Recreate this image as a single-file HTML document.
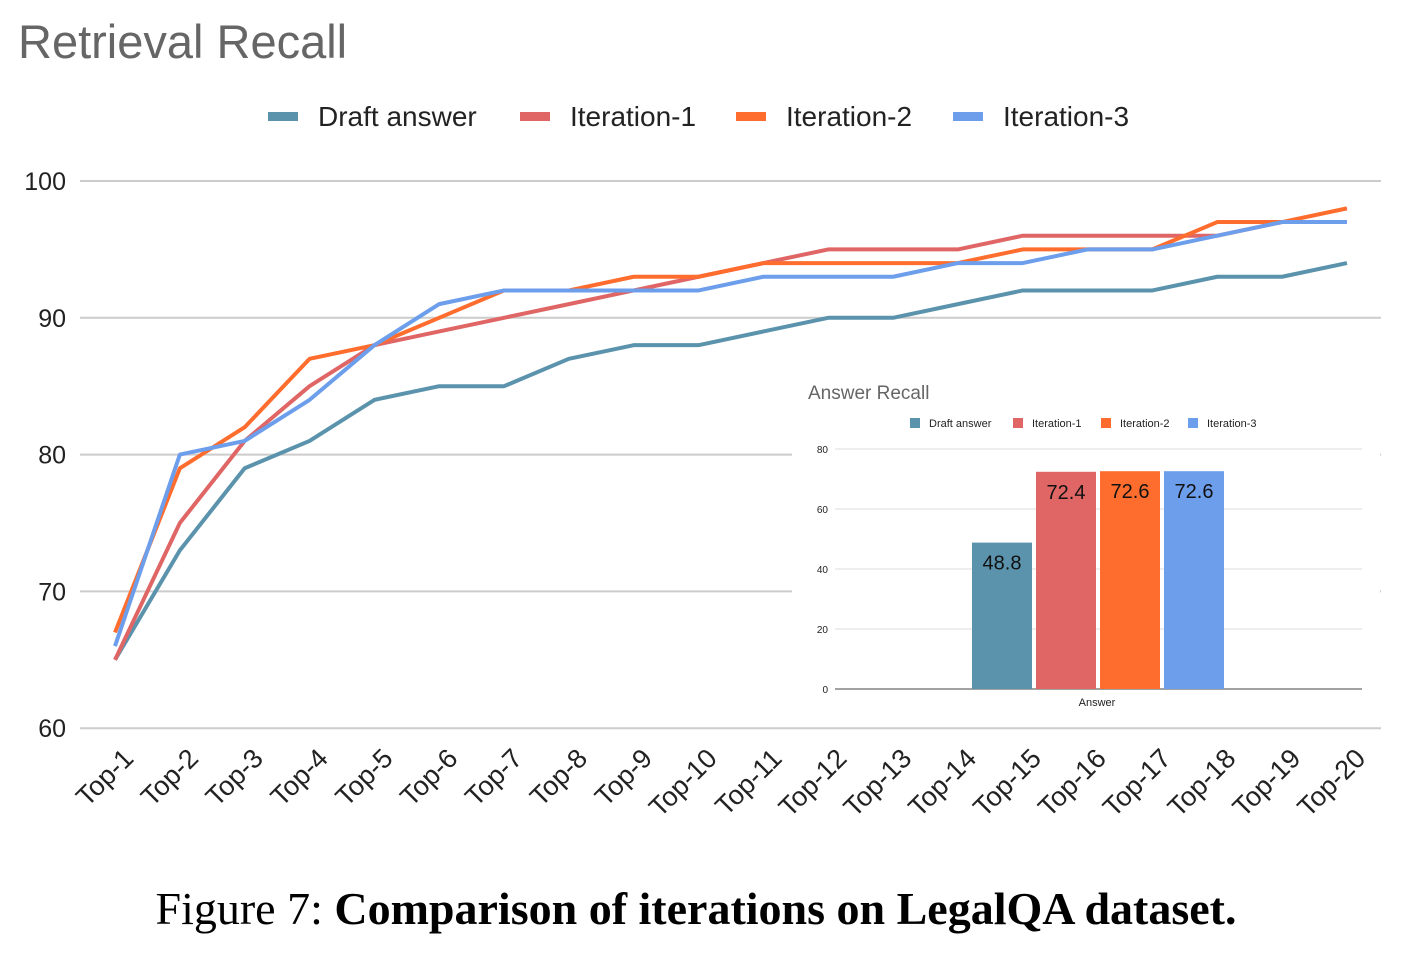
<!DOCTYPE html>
<html><head><meta charset="utf-8"><style>
body{margin:0;background:#fff;width:1419px;height:961px;overflow:hidden}
svg text{font-family:"Liberation Sans",sans-serif}
</style></head><body>
<svg id="c" width="1419" height="961"></svg>
<script>
const cats=["Top-1","Top-2","Top-3","Top-4","Top-5","Top-6","Top-7","Top-8","Top-9","Top-10","Top-11","Top-12","Top-13","Top-14","Top-15","Top-16","Top-17","Top-18","Top-19","Top-20"];
const draft=[65,73,79,81,84,85,85,87,88,88,89,90,90,91,92,92,92,93,93,94];
const iter1=[65,75,81,85,88,89,90,91,92,93,94,95,95,95,96,96,96,96,97,97];
const iter2=[67,79,82,87,88,90,92,92,93,93,94,94,94,94,95,95,95,97,97,98];
const iter3=[66,80,81,84,88,91,92,92,92,92,93,93,93,94,94,95,95,96,97,97];
const yTicks=[60,70,80,90,100];
const seriesNames=["Draft answer","Iteration-1","Iteration-2","Iteration-3"];
const colors=["#5b93ad","#e06666","#ff6d2e","#6d9eeb"];
const barCats=["Draft answer","Iteration-1","Iteration-2","Iteration-3"];
const barVals=[48.8,72.4,72.6,72.6];
const barTicks=[0,20,40,60,80];

const NS="http://www.w3.org/2000/svg";
const svg=document.getElementById('c');
function mk(t,a,txt,p){const e=document.createElementNS(NS,t);for(const k in a)e.setAttribute(k,a[k]);if(txt!=null)e.textContent=txt;(p||svg).appendChild(e);return e;}
const y=v=>181+(100-v)*13.68;
const x=i=>115+i*64.84;

let t=mk('text',{x:18,y:58,'font-size':47,fill:'#666'},'Retrieval Recall');



const legX=[268,520,736,953];
seriesNames.forEach((n,i)=>{
 let g=mk('g',{});
 
 
 mk('rect',{x:legX[i],y:112,width:30,height:9,fill:colors[i]},null,g);
 mk('text',{x:legX[i]+50,y:126,'font-size':28,fill:'#222'},n,g);
});

yTicks.forEach(v=>{
 let l=mk('line',{x1:80,x2:1381,y1:y(v),y2:y(v),stroke:'#ccc','stroke-width':2});
 
 
 let tx=mk('text',{x:66,y:y(v)+9,'font-size':25,fill:'#222','text-anchor':'end'},v);
 
 
});
cats.forEach((c,i)=>{
 const ax=x(i)+20, ay=760;
 let tx=mk('text',{x:ax,y:ay,'font-size':27,fill:'#222','text-anchor':'end',transform:`rotate(-45 ${ax} ${ay})`},c);
 
 
});
[draft,iter1,iter2,iter3].forEach((s,k)=>{
 let p=mk('polyline',{points:s.map((v,i)=>x(i)+','+y(v)).join(' '),fill:'none',stroke:colors[k],'stroke-width':4,'stroke-linejoin':'round'});
 
 
});

let ig=mk('g',{});


mk('rect',{x:792,y:372,width:588,height:345,fill:'#fff'},null,ig);
mk('text',{x:808,y:399,'font-size':19,fill:'#666'},'Answer Recall',ig);
const ilx=[910,1013,1101,1188];
barCats.forEach((n,i)=>{
 mk('rect',{x:ilx[i],y:418,width:10,height:10,fill:colors[i]},null,ig);
 mk('text',{x:ilx[i]+19,y:427,'font-size':11,fill:'#222'},n,ig);
});
const by=v=>689-v*3;
barTicks.forEach(v=>{
 mk('line',{x1:835,x2:1362,y1:by(v),y2:by(v),stroke:v?'#ddd':'#444','stroke-width':1},null,ig);
 mk('text',{x:828,y:by(v)+4,'font-size':10,fill:'#222','text-anchor':'end'},v,ig);
});
barVals.forEach((v,i)=>{
 const bx=972+i*64;
 let r=mk('rect',{x:bx,y:by(v),width:60,height:v*3,fill:colors[i]},null,ig);
 
 
 mk('text',{x:bx+30,y:by(v)+27,'font-size':20,fill:'#111','text-anchor':'middle'},v,ig);
});
mk('text',{x:1097,y:706,'font-size':11,fill:'#222','text-anchor':'middle'},'Answer',ig);

let cap=mk('text',{x:696,y:924,'font-size':46,'text-anchor':'middle',fill:'#000'});


cap.setAttribute('style','font-family:"Liberation Serif",serif');
mk('tspan',{},'Figure 7: ',cap);
mk('tspan',{'font-weight':'bold'},'Comparison of iterations on LegalQA dataset.',cap);
</script>
</body></html>
